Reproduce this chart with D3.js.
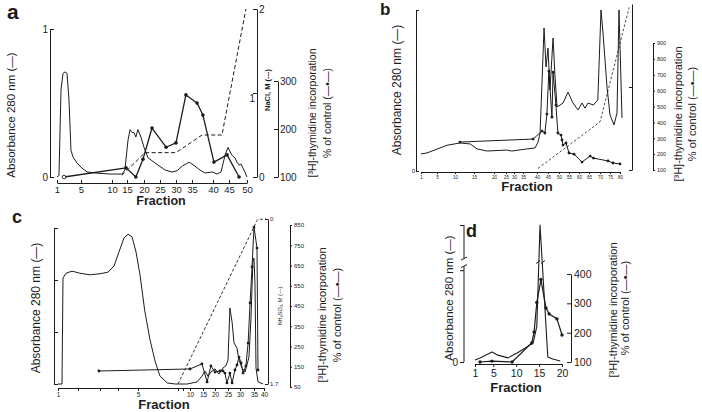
<!DOCTYPE html>
<html><head><meta charset="utf-8">
<script src="https://cdn.jsdelivr.net/npm/d3@7/dist/d3.min.js"></script>
<style>body{margin:0;background:#fff}svg{display:block}</style>
</head><body>
<svg id="chart" width="702" height="412"></svg>
<script>
// ---------- Panel a ----------
const aFractionTicks = [1,5,10,15,20,25,30,35,40,45,50];
const aAbsFraction = [1,1.33,1.67,2.0,2.33,2.67,3.0,3.33,3.67,4.33,5.16,5.97,7.3,9.7,13.3,14.3,15.3,15.9,16.5,17.1,17.6,18.2,19.1,20,21.25,23.75,26.6,28.75,30,30.6,32,34.1,35.7,36.9,38.1,39.8,41.25,42.5,43.8,44.7,45.6,46.1,46.7,47.2,47.8,48.3,48.9,49.4,50];
const aAbsValue    = [0,0.01,0.59,0.70,0.71,0.70,0.52,0.18,0.135,0.095,0.06,0.034,0.027,0.02,0.02,0.047,0.25,0.32,0.30,0.30,0.27,0.32,0.27,0.2,0.13,0.09,0.047,0.034,0.04,0.047,0.074,0.10,0.074,0.047,0.027,0.034,0.02,0.034,0.15,0.2,0.155,0.14,0.128,0.10,0.08,0.088,0.06,0.034,0];
const aThyFraction = [2.17,14.7,17.6,19.7,22.5,26.9,30,33.1,36.2,37.6,40.3,44.4,47.8];
const aThyValue    = [100,119,100,137,202,162,171,271,254,229,131,146,100];
const aNaclFraction = [13.3,20.3,30,37.4,42.8,49.7];
const aNaclValue    = [0.02,0.29,0.29,0.5,0.5,2.0];
const aAbsTicks = [0,1];
const aNaclTicks = [0,1,2];
const aThyTicks = [100,200,300];

// ---------- Panel b ----------
const bFractionTicks = [1,5,10,15,20,25,30,35,40,45,50,55,60,65,70,75,80];
const bAbsFraction = [1,2.5,7.8,11.3,14,15.8,18.3,25.4,28.6,36.4,39.3,40.5,41.4,43.2,44.1,45,45.9,47.3,48.2,49.1,50.5,52,54.5,57,59.5,61.5,63,64.5,67,69,70.5,71.5,73.5,75,77,78.5,79.5,81];
const bAbsValue    = [0.106,0.112,0.16,0.174,0.168,0.137,0.124,0.13,0.124,0.137,0.143,0.18,0.236,0.888,0.646,0.764,0.503,0.826,0.584,0.398,0.41,0.422,0.49,0.422,0.379,0.422,0.39,0.422,0.41,0.441,1.0,0.857,0.522,0.348,0.286,0.36,1.0,0.33];
const bThyFraction = [11.3,38.6,42.3,43.6,44.5,45.4,46.8,47.3,48.6,49.5,51,51.5,52,53.5,55,57.5,61.5,65.5,67,74,76.5,80];
const bThyValue    = [276,295,345,333,452,723,433,716,509,333,320,289,257,270,207,200,150,188,175,157,144,138];
const bGradFraction = [40.5,70,84.6];
const bGradValue    = [0.02,0.58,1.96];
const bThyTicks = [100,200,300,400,500,600,700,800,900];

// ---------- Panel c ----------
const cFractionTicks = [1,5,10,15,20,25,30,35,40];
const cMinorTicks = [2,3,4,8,9];
const cAbsFraction = [1,1.2,1.25,1.4,1.7,2.09,2.55,3,3.44,3.78,4.05,4.3,4.5,4.7,4.9,5.15,5.5,5.9,6.3,6.65,7.2,7.8,9.6,12.7,14.6,15.8,17.1,18.3,20,21.5,23.1,24.2,25,25.8,26.7,27.5,28.75,29.6,30.7,31.8,32.5,33.2,33.9,34.6,35,35.5,36,37,39.5];
const cAbsValue    = [0,0,2.04,2.13,2.17,2.13,2.1,2.12,2.15,2.27,2.54,2.81,2.88,2.83,2.54,2.1,1.42,0.85,0.42,0.15,0.02,0,0,0.04,0.15,0.25,0.15,0.23,0.29,0.19,0.31,0.35,0.46,1.46,1.19,0.79,0.69,0.46,0.31,0.23,0.37,0.52,1.23,2.35,2.42,1.9,0.31,0.04,0];
const cThyFraction = [2.95,10,14.6,16.7,18.3,20,21.9,23.1,23.8,24.6,25.8,26.7,27.9,28.75,29.6,30.4,31.1,32.1,32.9,33.6,34.3,35,36.5,37];
const cThyValue    = [129,139,164,75,154,124,129,129,119,70,119,70,134,159,198,169,119,154,267,465,643,840,736,134];
const cGradFraction = [8,35.5,36.3,37,41];
const cGradValue    = [1.7,0.06,0.02,0.005,0];
const cThyTicks = [50,150,250,350,450,550,650,750,850];

// ---------- Panel d ----------
const dFractionTicks = [1,5,10,15,20];
const dAbsFraction = [1,2.1,4.7,6,8.2,10.2,11.9,13.7,14.5,15.2,16.9,18,19.6];
const dAbsValue    = [0.015,0.03,0.073,0.05,0.03,0.066,0.1,0.14,0.26,1.0,0.036,0.022,0.007];
const dThyFraction = [2.1,4.7,9.1,13.4,13.9,14.5,15.4,16.5,17.2,18.9,20];
const dThyValue    = [100,103,100,165,202,303,381,284,264,247,192];
const dThyTicks = [100,200,300,400];

// ---------- drawing ----------
const FONT = "'Liberation Sans', Arial, Helvetica, sans-serif";
const INK = "#1c1c1c";
const svg = d3.select("#chart");
svg.append("rect").attr("width",702).attr("height",412).attr("fill","#fff");
const plain = d => String(d);

function addAxis(gen, x, y, fs) {
  const g = svg.append("g").attr("transform", `translate(${x},${y})`).call(gen)
    .attr("font-family", FONT).attr("font-size", fs);
  g.selectAll("path.domain").attr("stroke", INK).attr("stroke-width", 1);
  g.selectAll(".tick line").attr("stroke", INK).attr("stroke-width", 1);
  g.selectAll(".tick text").attr("fill", INK);
  return g;
}
function vtext(x, y, str, fs, weight) {
  svg.append("text").attr("transform", `translate(${x},${y}) rotate(-90)`)
    .attr("text-anchor", "middle").attr("font-family", FONT).attr("font-size", fs)
    .attr("font-weight", weight || "normal").attr("fill", INK).text(str);
}
function htext(x, y, str, fs, weight, anchor) {
  svg.append("text").attr("x", x).attr("y", y).attr("text-anchor", anchor || "middle")
    .attr("font-family", FONT).attr("font-size", fs).attr("font-weight", weight || "normal")
    .attr("fill", INK).text(str);
}
function path(xs, vs, xScale, yScale, width, dash) {
  const pts = xs.map((f, i) => [xScale(f), yScale(vs[i])]);
  svg.append("path").attr("d", d3.line()(pts)).attr("fill", "none")
    .attr("stroke", INK).attr("stroke-width", width)
    .attr("stroke-dasharray", dash || null).attr("stroke-linejoin", "round");
}
function dots(xs, vs, xScale, yScale, r, openFirst) {
  xs.forEach((f, i) => {
    const open = openFirst && i === 0;
    svg.append("circle").attr("cx", xScale(f)).attr("cy", yScale(vs[i])).attr("r", r)
      .attr("fill", open ? "#fff" : INK).attr("stroke", INK).attr("stroke-width", open ? 0.9 : 0);
  });
}

// ===== Panel a =====
{
  const x = d3.scaleLinear().domain(aFractionTicks).range([57,81,112,127,144,160,176,192,213,229,247]);
  const yAbs = d3.scaleLinear().domain([0,1]).range([177,29]);
  const yNacl = d3.scaleLinear().domain([0,2]).range([177,9]);
  const yThy = d3.scaleLinear().domain([100,300]).range([177,81]);
  addAxis(d3.axisLeft(yAbs).tickValues(aAbsTicks).tickFormat(plain).tickSizeInner(-4).tickSizeOuter(0).tickPadding(2), 50, 0, 10);
  addAxis(d3.axisBottom(x).tickValues(aFractionTicks).tickFormat(plain).tickSizeInner(-3).tickSizeOuter(0).tickPadding(3), 0, 183, 9.5);
  const na = addAxis(d3.axisRight(yNacl).tickValues(aNaclTicks).tickFormat(plain).tickSizeInner(-4).tickSizeOuter(0).tickPadding(2), 257, 0, 10);
  // the middle label "1" sits left of the NaCl axis, as in the original
  na.selectAll(".tick text").filter(d => d === 1).attr("x", -2).attr("text-anchor", "end").attr("dy", "0.85em");
  addAxis(d3.axisRight(yThy).tickValues(aThyTicks).tickFormat(plain).tickSizeInner(-4).tickSizeOuter(0).tickPadding(2), 278, 0, 10);
  path(aAbsFraction, aAbsValue, x, yAbs, 1);
  path(aNaclFraction, aNaclValue, x, yNacl, 1, "4,2.5");
  path(aThyFraction, aThyValue, x, yThy, 1.3);
  dots(aThyFraction, aThyValue, x, yThy, 1.8, true);
  htext(7, 19, "a", 21, "bold", "start");
  vtext(15, 115, "Absorbance 280 nm (—)", 11.5);
  vtext(270, 90, "NaCl, M (---)", 7.5, "bold");
  vtext(316, 113, "[³H]-thymidine incorporation", 10.5);
  vtext(331, 113, "% of control (—•—)", 10.5);
  htext(161, 205, "Fraction", 12.5, "bold");
}

// ===== Panel b =====
{
  const x = d3.scaleLinear().domain(bFractionTicks).range([421,437,455,474,494,506,514,523,537,548,559,569,579,589,600,610,620]);
  const yAbs = d3.scaleLinear().domain([0,1]).range([171,10]);
  const yGrad = d3.scaleLinear().domain([0,2]).range([170,4]);
  const yThy = d3.scaleLinear().domain([100,900]).range([170,43]);
  addAxis(d3.axisLeft(yAbs).tickValues([0,1]).tickFormat(d => d === 0 ? "0" : "").tickSizeInner(-3).tickSizeOuter(0).tickPadding(1), 416, 0, 6);
  addAxis(d3.axisBottom(x).tickValues(bFractionTicks).tickFormat(plain).tickSizeInner(2).tickSizeOuter(0).tickPadding(2), 0, 172, 4.6);
  addAxis(d3.axisRight(yGrad).tickValues([0,1]).tickFormat("").tickSizeInner(-3).tickSizeOuter(0), 632, 0, 6);
  addAxis(d3.axisRight(yThy).tickValues(bThyTicks).tickFormat(plain).tickSizeInner(2).tickSizeOuter(0).tickPadding(2), 653, 0, 5.5);
  path(bAbsFraction, bAbsValue, x, yAbs, 1);
  path(bGradFraction, bGradValue, x, yGrad, 0.8, "2.5,2");
  path(bThyFraction, bThyValue, x, yThy, 1);
  dots(bThyFraction, bThyValue, x, yThy, 1.4, false);
  htext(380, 15, "b", 17, "bold", "start");
  vtext(401, 90, "Absorbance 280 nm (—)", 12);
  vtext(682, 114, "[³H]-thymidine incorporation", 11);
  vtext(696, 114, "% of control (—•—)", 11);
  htext(527, 191, "Fraction", 13, "bold");
}

// ===== Panel c =====
{
  const x = d3.scaleLinear().domain([1,2,3,4,5,8,9,10,15,20,25,30,35,40]).range([58,78,100,118,138,178,183,190,203,215,228,240,254,264]);
  const yAbs = d3.scaleLinear().domain([0,3]).range([384,228]);
  const yGrad = d3.scaleLinear().domain([0,1.7]).range([219,384]);
  const yThy = d3.scaleLinear().domain([50,850]).range([387,225]);
  addAxis(d3.axisLeft(yAbs).tickValues([0,1,2,3]).tickFormat("").tickSizeInner(-4).tickSizeOuter(0), 54, 0, 6);
  addAxis(d3.axisBottom(x).tickValues(cFractionTicks.concat(cMinorTicks)).tickFormat(d => cFractionTicks.includes(d) ? String(d) : "").tickSizeInner(3).tickSizeOuter(0).tickPadding(1), 0, 388, 6.5);
  addAxis(d3.axisRight(yGrad).tickValues([0,1.7]).tickFormat(d => d === 0 ? "0" : "1.7").tickSizeInner(-3).tickSizeOuter(0).tickPadding(2), 268, 0, 6);
  addAxis(d3.axisRight(yThy).tickValues(cThyTicks).tickFormat(plain).tickSizeInner(2).tickSizeOuter(0).tickPadding(2), 290, 0, 6);
  path(cAbsFraction, cAbsValue, x, yAbs, 1);
  path(cGradFraction, cGradValue, x, yGrad, 0.9, "3,2");
  path(cThyFraction, cThyValue, x, yThy, 1);
  dots(cThyFraction, cThyValue, x, yThy, 1.4, false);
  htext(12, 223, "c", 18, "bold", "start");
  vtext(40, 308, "Absorbance 280 nm (—)", 12);
  vtext(282, 306, "NH₄SO₄, M (---)", 5.5);
  vtext(326, 315, "[³H]-thymidine incorporation", 11);
  vtext(341, 315, "% of control (—•—)", 11);
  htext(164, 409, "Fraction", 13, "bold");
}

// ===== Panel d =====
{
  const x = d3.scaleLinear().domain([1,20]).range([475,562]);
  const yAbs = d3.scaleLinear().domain([0,1]).range([362,225]);
  const yThy = d3.scaleLinear().domain([100,400]).range([362,274]);
  const la = addAxis(d3.axisLeft(yAbs).tickValues([0,0.67,1]).tickFormat(d => d === 0 ? "0" : "").tickSizeInner(4).tickSizeOuter(0).tickPadding(2), 464, 0, 10);
  la.select("path.domain").remove();
  const brk1 = yAbs(0.755), brk2 = yAbs(0.7);
  svg.append("line").attr("x1",464).attr("x2",464).attr("y1",yAbs(1)).attr("y2",brk1).attr("stroke",INK);
  svg.append("line").attr("x1",464).attr("x2",464).attr("y1",brk2).attr("y2",yAbs(0)).attr("stroke",INK);
  [brk1, brk2].forEach(b => svg.append("line").attr("x1",461).attr("x2",467).attr("y1",b+1.5).attr("y2",b-1.5).attr("stroke",INK));
  addAxis(d3.axisBottom(x).tickValues(dFractionTicks).tickFormat(plain).tickSizeInner(3).tickSizeOuter(0).tickPadding(3), 0, 364, 10.5);
  addAxis(d3.axisRight(yThy).tickValues(dThyTicks).tickFormat(plain).tickSizeInner(-4).tickSizeOuter(0).tickPadding(3), 571, 0, 10.5);
  path(dAbsFraction, dAbsValue, x, yAbs, 1.1);
  path(dThyFraction, dThyValue, x, yThy, 1.2);
  dots(dThyFraction, dThyValue, x, yThy, 1.7, false);
  const by = yAbs(0.73);
  [[536,540],[541,545]].forEach(([a,b]) => svg.append("line").attr("x1",a).attr("x2",b).attr("y1",by+1.5).attr("y2",by-1.5).attr("stroke",INK).attr("stroke-width",1));
  htext(466, 237, "d", 18, "bold", "start");
  vtext(453, 298, "Absorbance 280 nm (—)", 11.5);
  vtext(617, 310, "[³H]-thymidine incorporation", 11);
  vtext(629, 308, "% of control (—•—)", 11);
  htext(516, 392, "Fraction", 13, "bold");
}
</script>
</body></html>
